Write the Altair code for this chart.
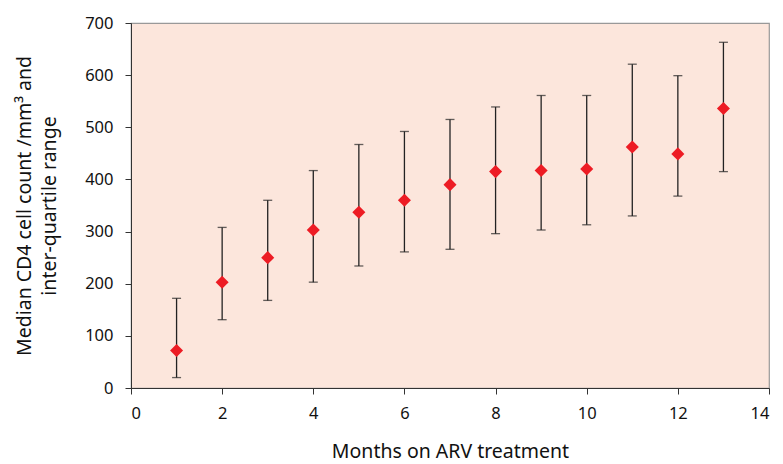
import altair as alt
import pandas as pd

months = [1, 2, 3, 4, 5, 6, 7, 8, 9, 10, 11, 12, 13]
median = [72, 203, 250, 303, 337, 360, 390, 415, 417, 420, 462, 449, 536]
q1 = [20, 131, 168, 203, 234, 261, 266, 296, 303, 313, 330, 368, 415]
q3 = [172, 308, 360, 417, 467, 492, 515, 539, 561, 561, 621, 599, 663]

df = pd.DataFrame({"month": months, "median": median, "q1": q1, "q3": q3})

FONT = "Noto Sans"

x = alt.X("month:Q", scale=alt.Scale(domain=[0, 14], nice=False),
          axis=alt.Axis(values=[0, 2, 4, 6, 8, 10, 12, 14], title="Months on ARV treatment",
                        grid=False, tickSize=6, labelPadding=11, titlePadding=21,
                        domainColor="#333333", tickColor="#333333"))
y_axis = alt.Axis(values=[0, 100, 200, 300, 400, 500, 600, 700],
                  title=["Median CD4 cell count /mm³ and", "inter-quartile range"],
                  grid=False, tickSize=6, labelPadding=12, titlePadding=25,
                  titleLineHeight=25,
                  domainColor="#333333", tickColor="#333333")
yscale = alt.Scale(domain=[0, 700], nice=False)

base = alt.Chart(df)

rules = base.mark_rule(color="#222222", strokeWidth=1.3).encode(
    x=x,
    y=alt.Y("q1:Q", scale=yscale, axis=y_axis),
    y2="q3:Q",
)
cap_lo = base.mark_tick(orient="horizontal", color="#222222", thickness=1.3, size=9).encode(
    x="month:Q", y="q1:Q")
cap_hi = base.mark_tick(orient="horizontal", color="#222222", thickness=1.3, size=9).encode(
    x="month:Q", y="q3:Q")
pts = base.mark_point(shape="diamond", filled=True, color="#ED1C24", opacity=1, size=170).encode(
    x="month:Q", y="median:Q")

chart = alt.layer(rules, cap_lo, cap_hi, pts).properties(
    width=638, height=365,
    autosize=alt.AutoSizeParams(type="none"),
    padding={"left": 123, "top": 15, "right": 6, "bottom": 76},
    background="white",
).configure_view(
    fill="#FCE6DC", stroke="#999999", strokeWidth=1.2
).configure_axis(
    labelFont=FONT, titleFont=FONT, labelFontSize=16.5, titleFontSize=19.5,
    labelColor="#111111", titleColor="#111111", titleFontWeight="normal"
)

chart.save("out.html", embed_options={"renderer": "svg", "actions": False})
